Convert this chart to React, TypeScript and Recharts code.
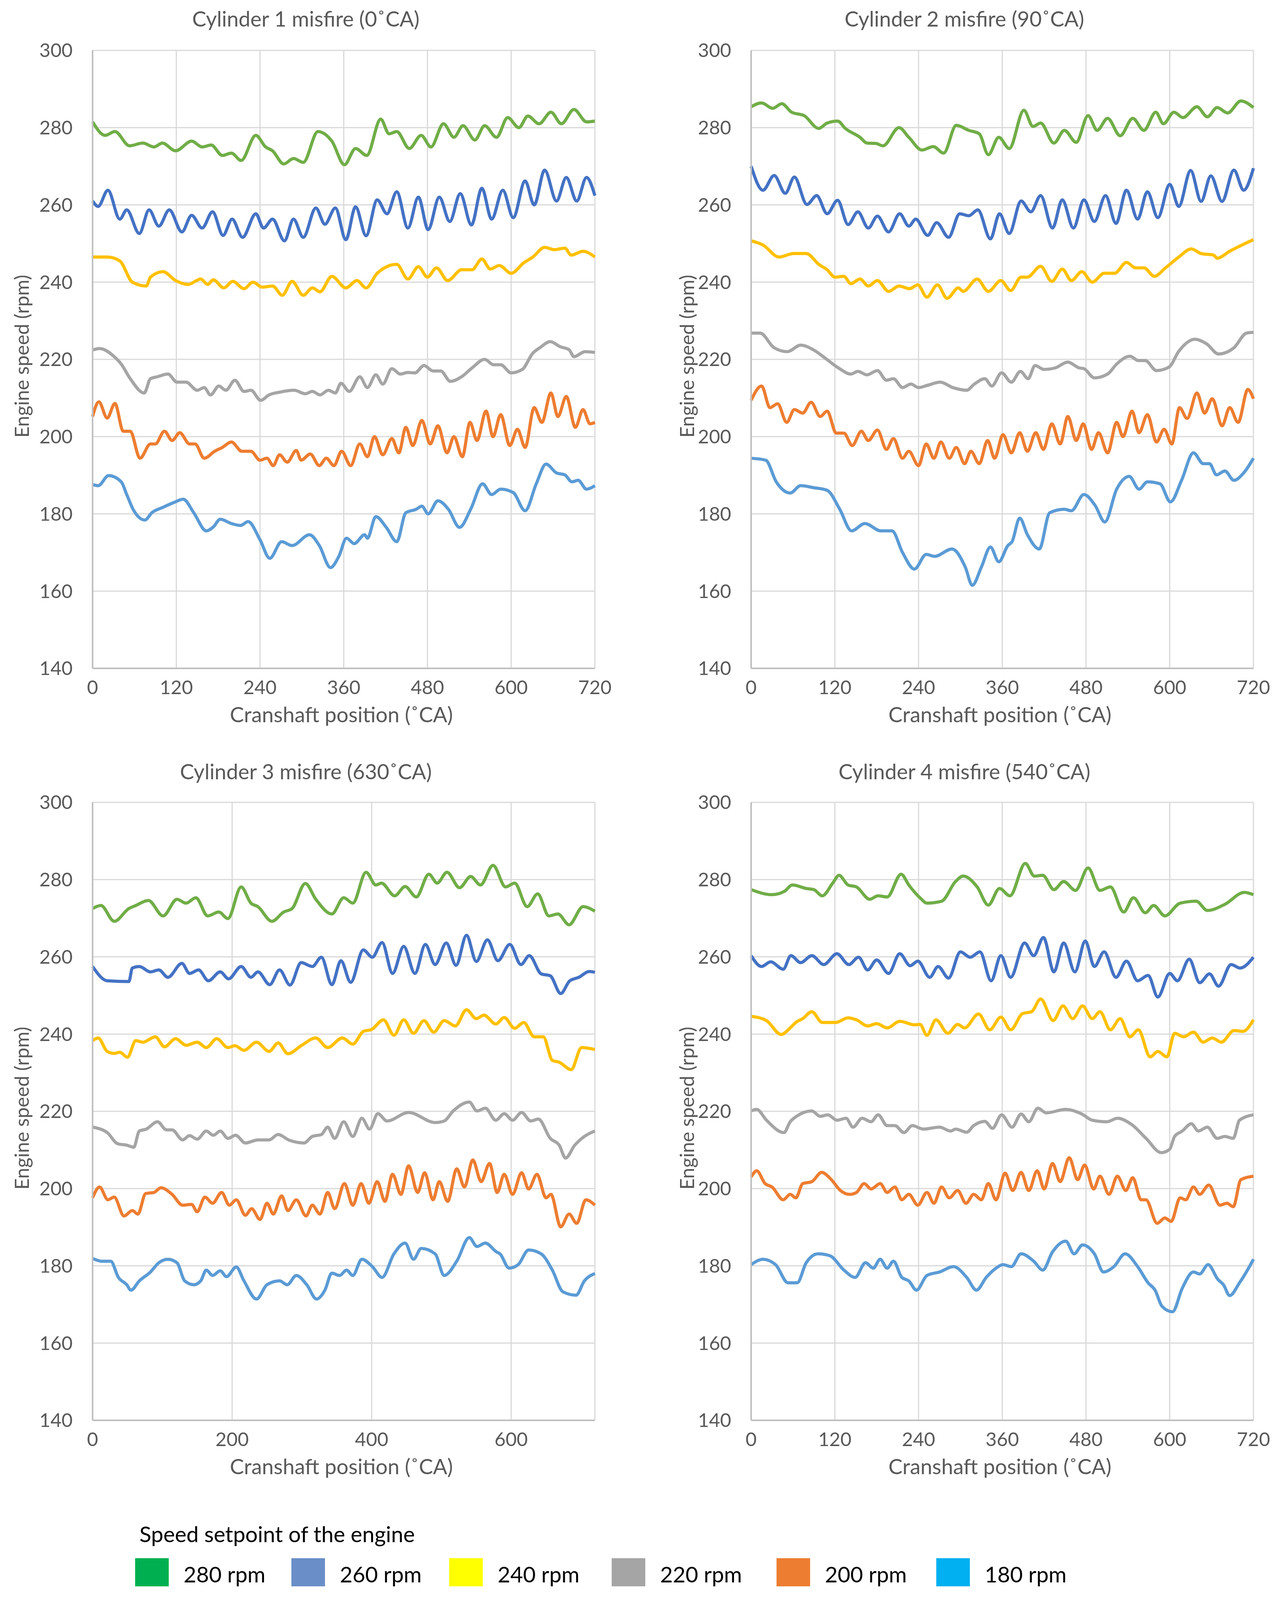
import React from 'react';
import { CartesianGrid, Line, LineChart, XAxis, YAxis } from 'recharts';

type Pt = [number, number];

// ---- Cylinder 1 misfire (0 CA) ----
const cyl1_280: Pt[] = [[0,281.5],[18,278],[32,279],[53,275.3],[72,276],[88,275],[100,276],[119,274],[142,276.5],[157,275],[170,275.5],[186,272.8],[199,273.4],[213,271.5],[234,278],[248,275],[258,274],[274,270.6],[288,272],[302,271],[323,279],[343,276.5],[361,270.4],[377,274.6],[393,272.8],[413,282.2],[425,278.4],[436,279],[454,274.6],[471,278],[485,275],[503,281],[518,277.5],[531,280.5],[548,276.8],[562,280.5],[579,277.5],[595,282.6],[611,280],[624,283],[640,281],[657,284],[672,281],[690,284.7],[708,281.5],[720,281.7]];
const cyl1_260: Pt[] = [[0,261],[8,259.6],[22,263.8],[39,256.3],[49,258.7],[67,252.6],[81,258.7],[95,254.5],[110,258.7],[128,253],[142,257.3],[157,254],[172,258.2],[187,252.1],[200,256.3],[215,251.6],[234,257.7],[245,254],[258,256.3],[275,250.7],[288,256.3],[302,251.6],[320,259.2],[333,255],[348,259.2],[363,251],[377,259.5],[392,252],[408,261.3],[422,257.7],[436,263.4],[452,254],[467,262],[481,253.6],[497,262],[512,255.7],[527,262.9],[543,254.8],[558,264.3],[572,256.3],[588,263.8],[603,256.7],[620,266.2],[633,260],[648,269],[665,261],[679,267.1],[694,261],[708,267.1],[720,262.4]];
const cyl1_240: Pt[] = [[0,246.5],[21,246.5],[39,245.5],[57,240],[77,239],[83,241.3],[101,242.7],[119,240.4],[137,239.4],[155,240.8],[165,239.4],[173,240.6],[188,238.5],[201,240.2],[217,238.3],[230,240],[243,238.7],[258,239],[272,236.6],[286,240.2],[302,236.6],[315,238.5],[326,237.5],[343,241.5],[363,238.5],[379,240.4],[392,238.5],[408,242.3],[436,244.6],[452,240.8],[467,244],[480,241.3],[493,243.7],[509,240.4],[529,243.2],[544,243.2],[558,246],[570,243.4],[583,244.3],[600,242.3],[618,245],[631,246.5],[648,249],[662,248.4],[677,248.8],[686,247],[703,248],[720,246.5]];
const cyl1_220: Pt[] = [[0,222.4],[10,222.8],[31,220.7],[41,218.8],[54,215],[74,211.3],[83,215],[93,215.5],[108,216.2],[121,214.1],[134,214.1],[150,212],[160,212.7],[169,210.8],[181,213.1],[191,212],[204,214.6],[217,211.7],[227,212],[241,209.4],[253,210.8],[268,211.5],[289,212],[305,211.1],[315,211.7],[326,210.8],[338,212],[348,211.3],[356,213.8],[368,211.7],[383,215.5],[394,212.7],[406,216],[416,213.6],[429,217.6],[441,216.2],[452,216.6],[462,216.5],[475,218.4],[488,217],[499,217],[513,214.3],[529,215.5],[544,217.8],[562,220],[575,218.6],[585,218.6],[600,216.5],[616,217.4],[631,221.6],[641,223],[656,224.6],[670,223.3],[683,222.5],[690,220.7],[706,222],[720,221.8]];
const cyl1_200: Pt[] = [[0,205.2],[9,209],[21,204.8],[32,208.6],[44,201.4],[54,201.4],[68,194.4],[83,198.1],[90,198.1],[103,201.4],[114,199],[125,201],[139,198.1],[147,198.1],[160,194.4],[175,196.2],[186,197.2],[199,198.6],[214,196.2],[227,196.2],[240,193.9],[250,194.4],[259,192.5],[268,195.3],[279,193.4],[292,196.4],[299,193.9],[312,195.5],[325,192.5],[335,194.4],[346,192.5],[357,196.2],[370,192.5],[383,198.1],[394,194.8],[404,200],[416,195.3],[429,199.5],[439,195.8],[449,202.4],[459,197.7],[472,204.2],[484,198.1],[495,202.8],[508,195.8],[518,200],[530,194.8],[541,203.7],[551,199],[564,206.6],[574,200],[585,205.7],[598,197.7],[609,201.9],[620,197.2],[633,207.5],[644,203.7],[657,211.3],[667,205.2],[679,210.4],[692,202.4],[703,207],[713,203.3],[720,203.7]];
const cyl1_180: Pt[] = [[0,187.6],[8,187.3],[23,189.9],[41,188.3],[49,185],[58,181.2],[75,178.4],[85,180.3],[101,181.7],[116,182.9],[130,183.8],[145,180.3],[163,175.6],[173,176.6],[183,178.6],[199,177.5],[212,177],[223,178],[240,173.3],[254,168.5],[271,172.8],[286,171.8],[311,174.6],[325,171.8],[341,166.1],[353,169],[364,173.7],[375,172.3],[390,174.6],[394,173.7],[406,179.3],[421,176.5],[436,172.8],[449,180.3],[464,181.2],[472,182],[481,180],[495,183.4],[510,181.2],[526,176.5],[542,181.2],[559,187.8],[572,185],[585,186.4],[603,185.5],[620,180.8],[636,187.8],[650,192.9],[665,190.6],[677,190.1],[687,188.3],[696,188.7],[708,186.4],[720,187.3]];

// ---- Cylinder 2 misfire (90 CA) ----
const cyl2_280: Pt[] = [[0,285.4],[15,286.4],[31,285],[44,286.2],[58,284],[76,283.1],[97,279.8],[109,281.2],[124,281.7],[135,279.8],[156,277.5],[166,276],[179,275.9],[189,275.3],[212,280],[226,277.5],[245,274.2],[261,275.1],[276,273.4],[294,280.6],[312,279.3],[327,278.4],[340,273],[355,277.5],[370,274.6],[391,284.5],[404,280.3],[415,281.2],[434,276],[449,279.3],[466,276.2],[483,283.1],[496,279.3],[511,282.4],[529,277.9],[547,282.4],[563,279.3],[580,284],[591,281],[606,284],[619,282.6],[639,285.4],[654,282.8],[668,285.2],[683,283.8],[702,286.9],[720,285.2]];
const cyl2_260: Pt[] = [[0,270],[17,263.8],[33,267.6],[49,263],[62,267.2],[80,260.1],[94,262.4],[109,257.7],[124,261.2],[139,254.9],[153,258.2],[168,254],[181,257.1],[197,253],[213,257.7],[226,254.5],[236,256.3],[253,252.1],[266,255.4],[283,251.6],[299,257.7],[312,257.2],[325,258.7],[343,251.2],[356,257.7],[370,252.6],[387,261],[401,258.2],[415,262.4],[432,254],[446,261.3],[462,254],[477,261.3],[492,255.7],[508,262.4],[523,255.2],[538,263.8],[554,256.3],[568,263.4],[583,256.7],[600,265.3],[613,259.6],[630,268.9],[645,260.9],[659,267.5],[675,260.9],[692,269],[706,263.8],[720,269.5]];
const cyl2_240: Pt[] = [[0,250.7],[17,249.6],[40,246.5],[61,247.4],[79,247.4],[97,244.6],[109,243.2],[120,241.3],[133,241.5],[143,239.6],[156,240.8],[168,239],[181,240.4],[197,237.6],[212,239],[227,238.3],[239,239.3],[252,236.1],[267,239.3],[281,235.8],[297,238.5],[304,237.6],[324,240.8],[340,237.6],[358,240.4],[372,237.8],[387,241.3],[396,241.3],[415,244.1],[431,240.2],[446,243.4],[459,240.4],[474,242.7],[489,240],[506,242.3],[521,242.3],[538,245.1],[551,243.7],[563,243.7],[578,241.5],[594,243.7],[613,246.5],[631,248.6],[645,247.4],[663,247],[668,246.2],[686,248],[720,251]];
const cyl2_220: Pt[] = [[0,226.8],[13,226.8],[33,223],[52,222],[71,223.7],[89,222.5],[107,220.2],[125,217.8],[143,216.2],[153,216.9],[166,216],[181,217.1],[194,214.6],[204,215],[217,212.7],[229,213.6],[240,212.7],[253,213.3],[271,214.1],[289,212.7],[309,212],[320,213.6],[335,215],[345,213.1],[359,216.5],[373,214.1],[386,216.9],[397,215],[407,218.4],[420,217.4],[436,217.8],[454,219.3],[470,217.8],[477,217.6],[492,215.2],[511,216.2],[524,218.8],[543,220.8],[555,219.7],[565,219.7],[581,217.1],[599,218],[613,222.1],[636,225.2],[653,224],[670,221.4],[692,223],[710,226.8],[720,227]];
const cyl2_200: Pt[] = [[0,209.4],[15,213.1],[27,207.5],[38,208.5],[51,203.7],[62,207],[74,206.1],[86,208.9],[99,205.2],[109,206.6],[122,200.9],[133,200.9],[145,197.7],[158,201.4],[168,199],[181,201.7],[194,196.7],[204,199.5],[217,194.4],[226,196.2],[240,192.5],[251,198.1],[262,194.4],[272,198.6],[284,194.4],[294,197.2],[306,193],[315,196.2],[327,193],[339,199],[349,194.4],[361,200.5],[373,195.8],[385,201],[396,196.2],[408,201],[419,196.7],[431,203.3],[443,198.1],[454,205.2],[466,199],[476,203.3],[488,196.7],[498,201],[511,195.8],[524,203.7],[533,200],[546,206.6],[556,201],[568,205.7],[581,198.6],[592,201.9],[603,198.1],[614,207.5],[625,204.7],[639,211.3],[650,206.1],[661,209.8],[675,202.8],[686,207.5],[698,203.7],[712,212.2],[720,209.8]];
const cyl2_180: Pt[] = [[0,194.4],[21,193.9],[36,188.3],[56,185.4],[71,187.3],[89,186.8],[109,186.1],[127,181.2],[144,175.6],[163,177.5],[186,175.6],[202,175.6],[217,170],[234,165.7],[251,169.5],[263,169],[288,170.9],[307,166.2],[317,161.5],[330,166.2],[343,171.4],[355,167.6],[368,171.8],[374,172.8],[385,178.9],[396,174.6],[413,170.9],[428,180.3],[449,181.2],[459,180.8],[477,185],[493,182.2],[507,177.9],[524,186.4],[542,189.7],[556,186.4],[568,188.3],[586,187.8],[601,183.1],[617,188.7],[634,195.8],[648,193],[657,193],[667,190.1],[679,191.1],[692,188.7],[706,190.6],[720,194.4]];

// ---- Cylinder 3 misfire (630 CA) ----
const cyl3_280: Pt[] = [[0,272.5],[12,273.3],[31,269.2],[52,272.5],[62,273.3],[80,274.6],[101,270.6],[121,274.9],[134,273.9],[148,275.3],[165,270.6],[181,271.6],[194,269.9],[213,278.1],[227,273.9],[237,273],[257,269.2],[274,271.6],[286,272.5],[305,279],[320,274.9],[343,271.1],[360,275.3],[373,273.9],[392,281.9],[406,278.6],[414,279.1],[433,275.8],[448,278.2],[464,275.5],[482,281.4],[494,279.1],[508,281.9],[526,277.9],[542,280.8],[556,278.6],[574,283.7],[592,278.1],[605,279.1],[623,273],[638,276.3],[654,270.6],[667,271.1],[683,268.3],[703,273],[720,271.8]];
const cyl3_260: Pt[] = [[0,257.5],[21,253.8],[52,253.6],[57,257.1],[67,257.5],[83,256.1],[95,256.6],[108,254.7],[128,258.3],[139,255.7],[152,256.6],[166,253.8],[183,256.1],[195,254.3],[213,257.5],[227,254.7],[237,256.1],[254,252.8],[268,256.6],[283,252.7],[299,258.5],[315,257.5],[328,259.9],[343,252.8],[356,259],[370,253.4],[388,261.8],[401,259.9],[415,263.7],[430,255.7],[446,262.7],[462,255.7],[477,263.2],[491,258],[507,263.6],[521,257.8],[536,265.6],[550,258.8],[566,264.4],[581,259],[598,263.2],[614,258],[626,260.3],[643,255.6],[656,255.1],[671,250.5],[684,253.8],[697,254.7],[712,256.2],[720,256]];
const cyl3_240: Pt[] = [[0,238.3],[8,239],[21,235.5],[31,235],[39,235.3],[50,234],[62,238.3],[72,237.9],[90,239.3],[103,236.7],[119,238.8],[134,237.1],[150,237.9],[163,236.5],[178,238.8],[194,236.5],[204,237],[217,235.8],[235,237.9],[253,235.5],[266,237.7],[280,234.9],[299,237],[320,239],[337,236.5],[358,239],[373,237.4],[388,240.7],[400,241.2],[417,243.7],[432,239.7],[446,243.7],[460,240.2],[475,243.5],[489,240.5],[504,243.5],[520,242.1],[536,246.3],[550,244],[561,244.9],[578,242.6],[590,244.3],[605,241.5],[618,243],[633,239.3],[646,239.3],[659,233.2],[669,232.7],[686,230.8],[701,236.5],[720,236]];
const cyl3_220: Pt[] = [[0,215.9],[21,214.5],[36,211.6],[50,211.2],[59,210.7],[67,214.9],[77,215.4],[93,217.3],[106,215.2],[114,215.2],[129,212.6],[139,213.7],[150,212.8],[163,214.9],[173,213.8],[183,214.9],[194,213],[205,213.8],[219,211.8],[237,212.6],[253,212.6],[266,214],[281,212.6],[303,211.8],[315,213.5],[328,214],[337,215.9],[347,213],[360,217.3],[373,213.5],[386,218.2],[397,215.4],[409,219.4],[422,217.5],[453,219.7],[491,217.1],[504,217.5],[517,220.1],[540,222.4],[551,220.1],[563,220.8],[578,217.7],[590,219.4],[602,217.7],[615,219.7],[628,217.5],[639,218],[656,213],[669,211.2],[678,207.9],[691,211.2],[705,213.5],[720,214.9]];
const cyl3_200: Pt[] = [[0,197.6],[10,200.4],[22,197.1],[31,197.8],[45,192.9],[57,194.3],[65,193.4],[76,198.7],[88,199],[98,200.2],[114,198.5],[129,195.7],[142,195.9],[150,194],[161,197.8],[172,196.2],[185,199],[196,195.7],[206,197.1],[219,193.1],[228,194.8],[240,192],[250,196.2],[259,193.4],[271,198.1],[280,194.3],[292,197.1],[306,192.9],[315,195.7],[326,193.4],[337,199],[347,194.8],[361,201.3],[373,195.7],[385,201.3],[396,196.2],[408,201.8],[419,196.7],[430,203.7],[442,198.5],[453,205.9],[466,199],[476,204.1],[488,197.1],[497,201.8],[509,196.7],[522,205.1],[533,200.4],[545,207.4],[557,201.8],[569,206.5],[580,199],[590,203.7],[602,198.5],[615,204.1],[625,199.9],[637,203.7],[650,197.6],[657,198.5],[671,190.1],[683,193.4],[694,191],[707,197.1],[720,195.7]];
const cyl3_180: Pt[] = [[0,181.9],[13,181.2],[26,181.2],[37,177],[49,175.1],[55,173.7],[67,176.1],[83,178.4],[95,180.8],[108,181.7],[121,180.8],[132,176.1],[145,175.1],[155,176.1],[163,178.9],[172,177.5],[183,178.7],[192,177.2],[206,179.7],[217,176.1],[235,171.4],[250,175.1],[268,176.1],[279,175.1],[292,177.5],[307,175.1],[321,171.4],[333,173.7],[343,178.1],[354,177.5],[364,178.9],[373,177.5],[386,181.7],[401,179.8],[415,177],[432,183.1],[448,185.9],[460,181.7],[471,184.5],[491,183.1],[504,177.5],[522,181.2],[540,187.3],[551,185],[563,185.9],[579,183.6],[584,183.1],[597,179.4],[610,180.3],[625,184.1],[643,183.1],[659,178.9],[674,173.3],[693,172.4],[705,176.1],[720,178]];

// ---- Cylinder 4 misfire (540 CA) ----
const cyl4_280: Pt[] = [[0,277.4],[30,276.1],[48,277],[59,278.6],[79,277.7],[90,277.4],[102,275.8],[117,279.1],[126,281.1],[139,278.6],[151,278.1],[170,274.9],[182,275.8],[195,275.5],[215,281.4],[226,278.6],[242,275.3],[252,273.9],[273,274.4],[293,279.5],[304,280.9],[324,278.1],[340,273.4],[356,277.7],[371,275.8],[393,284.2],[406,280.9],[418,281.1],[434,277.4],[448,279.5],[465,277.2],[483,283],[500,277.2],[515,278.1],[534,271.6],[548,275.3],[565,271.4],[577,273.3],[593,270.6],[615,273.9],[638,274.4],[654,272],[679,273.6],[707,276.7],[720,276.1]];
const cyl4_260: Pt[] = [[0,260.3],[15,257.5],[28,258.7],[46,256.8],[57,260.3],[71,258.5],[87,260.3],[104,258],[123,260.8],[140,258],[154,259.9],[167,256.6],[180,259.2],[197,255.7],[213,260.8],[228,257.7],[239,258.9],[256,254.7],[268,257.5],[283,254.5],[300,261.3],[314,259.9],[328,261.3],[344,253.8],[358,260.3],[372,254.7],[392,263.6],[405,260.3],[419,265],[434,256.1],[448,263.6],[464,256.1],[479,264.1],[492,257.5],[506,261.3],[523,254.7],[538,258.9],[554,253.8],[569,255.2],[583,249.6],[600,255.7],[611,253.8],[628,259.4],[643,253.3],[657,255.6],[670,252.4],[688,258],[701,257.1],[720,259.9]];
const cyl4_240: Pt[] = [[0,244.6],[22,243.5],[43,239.9],[56,241.6],[64,243],[74,244],[87,245.8],[102,243],[121,243],[139,244.2],[151,243.7],[167,242.1],[180,242.7],[195,241.6],[213,243.3],[234,242.4],[242,242.5],[252,239.7],[265,243.7],[282,240.2],[296,242.5],[306,241.6],[326,245.2],[342,241.1],[358,244.4],[372,241.1],[389,245.3],[402,245.8],[415,249.1],[433,243.5],[447,247.3],[461,244],[475,247.3],[489,244],[500,245.8],[515,241.1],[529,244],[543,239.3],[555,241.1],[572,234.1],[583,235.5],[596,234.1],[607,240.2],[620,239.3],[634,240.5],[648,237.9],[661,239],[674,237.9],[692,240.9],[705,240.7],[720,243.7]];
const cyl4_220: Pt[] = [[0,220.1],[8,220.5],[22,217.7],[47,214.5],[56,217.3],[65,218.7],[87,220.1],[99,218.7],[110,219.1],[123,217.7],[136,218.2],[146,215.9],[159,218.2],[172,217.3],[182,219.1],[195,216.3],[206,216.3],[219,214.5],[231,216.3],[247,215.4],[270,215.9],[286,214.9],[293,215.4],[309,214.6],[319,216.3],[335,217.4],[346,215.6],[359,219.1],[374,215.9],[387,219.3],[398,217.3],[411,220.8],[423,219.6],[451,220.5],[474,219.3],[489,217.7],[510,217.3],[525,218.2],[546,216.5],[566,213],[588,209.3],[600,210.2],[607,213.5],[618,214.9],[631,216.8],[641,214.9],[654,215.9],[668,213],[679,213.5],[691,213],[700,217.7],[720,219.1]];
const cyl4_200: Pt[] = [[0,203],[8,204.6],[20,201.3],[30,200.4],[46,197.1],[56,198.5],[64,197.6],[74,201.3],[87,201.8],[101,204.2],[115,202.3],[128,199.5],[141,198.5],[151,199],[162,201.3],[172,199.9],[185,201.3],[195,199],[206,200.4],[216,197.1],[226,198.5],[239,195.7],[252,199],[262,196.2],[273,200.4],[284,197.6],[296,199.5],[308,196.2],[319,198.5],[330,197.1],[340,201.3],[351,197.1],[364,204],[375,199.5],[387,204.2],[398,199.5],[410,204.6],[420,199.9],[432,206.5],[443,201.8],[456,208],[468,202.3],[478,206.1],[491,199.9],[500,203.2],[513,198.5],[525,203.2],[537,199.5],[547,202.8],[559,197.1],[566,197.1],[582,191],[593,192.4],[602,191.5],[615,197.6],[623,197.1],[634,200.4],[643,198.5],[656,200.9],[672,195.7],[682,196.2],[691,195.3],[702,202.3],[720,203.2]];
const cyl4_180: Pt[] = [[0,180.3],[17,181.7],[35,180.3],[53,175.6],[66,175.6],[79,180.8],[96,183.1],[113,182.6],[133,178.9],[149,177],[164,180.8],[175,179.4],[185,181.7],[195,179.4],[204,181.2],[216,177],[226,176.1],[237,173.7],[252,177.5],[270,178.4],[290,179.8],[309,177],[323,173.7],[337,177],[351,179.4],[361,180.3],[373,179.8],[387,183.1],[405,181.2],[418,178.9],[432,183.6],[451,186.4],[463,183.1],[475,185.4],[492,183.1],[505,178.4],[520,179.8],[536,183.1],[554,179.8],[569,175.6],[579,173.7],[589,169.5],[604,168.1],[618,174.2],[634,178.4],[643,177.9],[655,180.3],[669,176.5],[677,175.1],[686,172.3],[700,175.6],[713,179.4],[720,181.7]];

const SETPOINTS = ['280 rpm', '260 rpm', '240 rpm', '220 rpm', '200 rpm', '180 rpm'];
const LINE_COLORS = ['#70AD47', '#4472C4', '#FFC000', '#A5A5A5', '#ED7D31', '#5B9BD5'];
const LEGEND_COLORS = ['#00B050', '#6A8EC8', '#FFFF00', '#A5A5A5', '#ED7D31', '#00B0F0'];
const Y_TICKS = [140, 160, 180, 200, 220, 240, 260, 280, 300];
const X_TICKS_120 = [0, 120, 240, 360, 480, 600, 720];
const X_TICKS_200 = [0, 200, 400, 600];

const FONT = "Lato, 'Noto Sans', sans-serif";
const TEXT = '#595959';

// The figure is laid out on a 3277 x 5366 sheet; the window may be shorter,
// so vertical positions are squeezed to fit what is actually visible.
const SHEET_H = 5366;
const SY = Math.min(1, (typeof window !== 'undefined' ? window.innerHeight : SHEET_H) / SHEET_H);
const sy = (v: number) => Math.round(v * SY);

const PW = 1286;
const PH = sy(2072);
const Y_W = 230;
const X_H = 200;
const PAD = { top: 45, right: 70, bottom: 10, left: 10 };

const panels = [
  { title: 'Cylinder 1 misfire (0˚CA)', series: [cyl1_280, cyl1_260, cyl1_240, cyl1_220, cyl1_200, cyl1_180], xTicks: X_TICKS_120, left: 237, top: sy(169), titleY: sy(63), yTitleX: 55 },
  { title: 'Cylinder 2 misfire (90˚CA)', series: [cyl2_280, cyl2_260, cyl2_240, cyl2_220, cyl2_200, cyl2_180], xTicks: X_TICKS_120, left: 1923, top: sy(169), titleY: sy(63), yTitleX: 1758 },
  { title: 'Cylinder 3 misfire (630˚CA)', series: [cyl3_280, cyl3_260, cyl3_240, cyl3_220, cyl3_200, cyl3_180], xTicks: X_TICKS_200, left: 237, top: sy(2691), titleY: sy(2588), yTitleX: 55 },
  { title: 'Cylinder 4 misfire (540˚CA)', series: [cyl4_280, cyl4_260, cyl4_240, cyl4_220, cyl4_200, cyl4_180], xTicks: X_TICKS_120, left: 1923, top: sy(2691), titleY: sy(2588), yTitleX: 1758 },
];

const LEGEND_X = [346, 746, 1150, 1566, 1988, 2397];

const centered = (x: number, y: number, extra: React.CSSProperties = {}): React.CSSProperties => ({
  position: 'absolute',
  left: x,
  top: y,
  transform: 'translate(-50%, -50%)',
  whiteSpace: 'nowrap',
  lineHeight: 1,
  fontFamily: FONT,
  ...extra,
});

function Panel({ p }: { p: (typeof panels)[number] }) {
  const width = PAD.left + Y_W + PW + PAD.right;
  const height = PAD.top + PH + X_H + PAD.bottom;
  return (
    <>
      <div style={{ position: 'absolute', left: p.left - PAD.left - Y_W, top: p.top - PAD.top }}>
        <LineChart width={width} height={height} margin={PAD}>
          <CartesianGrid stroke="#D9D9D9" strokeWidth={3} />
          <XAxis
            type="number"
            dataKey="x"
            domain={[0, 720]}
            ticks={p.xTicks}
            interval={0}
            height={X_H}
            tickLine={false}
            tickSize={0}
            tickMargin={sy(64) - 18}
            axisLine={{ stroke: '#BFBFBF', strokeWidth: 4 }}
            tick={{ fill: TEXT, fontSize: 49, fontFamily: FONT }}
          />
          <YAxis
            type="number"
            domain={[140, 300]}
            ticks={Y_TICKS}
            interval={0}
            width={Y_W}
            tickLine={false}
            tickSize={0}
            tickMargin={51}
            axisLine={{ stroke: '#BFBFBF', strokeWidth: 4 }}
            tick={{ fill: TEXT, fontSize: 49, fontFamily: FONT }}
          />
          {p.series.map((s, i) => (
            <Line
              key={SETPOINTS[i]}
              data={s.map(([x, y]) => ({ x, y }))}
              dataKey="y"
              name={SETPOINTS[i]}
              type="monotone"
              stroke={LINE_COLORS[i]}
              strokeWidth={8}
              dot={false}
              activeDot={false}
              isAnimationActive={false}
            />
          ))}
        </LineChart>
      </div>
      <div style={centered(p.left + 546, p.titleY, { fontSize: 54, color: TEXT })}>{p.title}</div>
      <div style={centered(p.left + PW / 2 - 6, p.top + PH + sy(154), { fontSize: 54, color: TEXT })}>
        Cranshaft position (˚CA)
      </div>
      <div
        style={{
          ...centered(p.yTitleX, p.top + PH / 2 - 8, { fontSize: 50, color: TEXT }),
          transform: 'translate(-50%, -50%) rotate(-90deg)',
        }}
      >
        Engine speed (rpm)
      </div>
    </>
  );
}

export default function App() {
  return (
    <div style={{ position: 'absolute', left: 0, top: 0, width: 3277, height: sy(SHEET_H), background: '#fff', overflow: 'hidden' }}>
      {panels.map((p) => (
        <Panel key={p.title} p={p} />
      ))}
      <div style={{ position: 'absolute', left: 357, top: sy(5145), transform: 'translateY(-50%)', fontFamily: FONT, fontSize: 56, lineHeight: 1, color: '#000', whiteSpace: 'nowrap' }}>
        Speed setpoint of the engine
      </div>
      {SETPOINTS.map((label, i) => (
        <React.Fragment key={label}>
          <div style={{ position: 'absolute', left: LEGEND_X[i], top: sy(5226), width: 86, height: sy(86) + 6, background: LEGEND_COLORS[i] }} />
          <div style={{ position: 'absolute', left: LEGEND_X[i] + 124, top: sy(5280), transform: 'translateY(-50%)', fontFamily: FONT, fontSize: 56, lineHeight: 1, color: '#000', whiteSpace: 'nowrap' }}>
            {label}
          </div>
        </React.Fragment>
      ))}
    </div>
  );
}
